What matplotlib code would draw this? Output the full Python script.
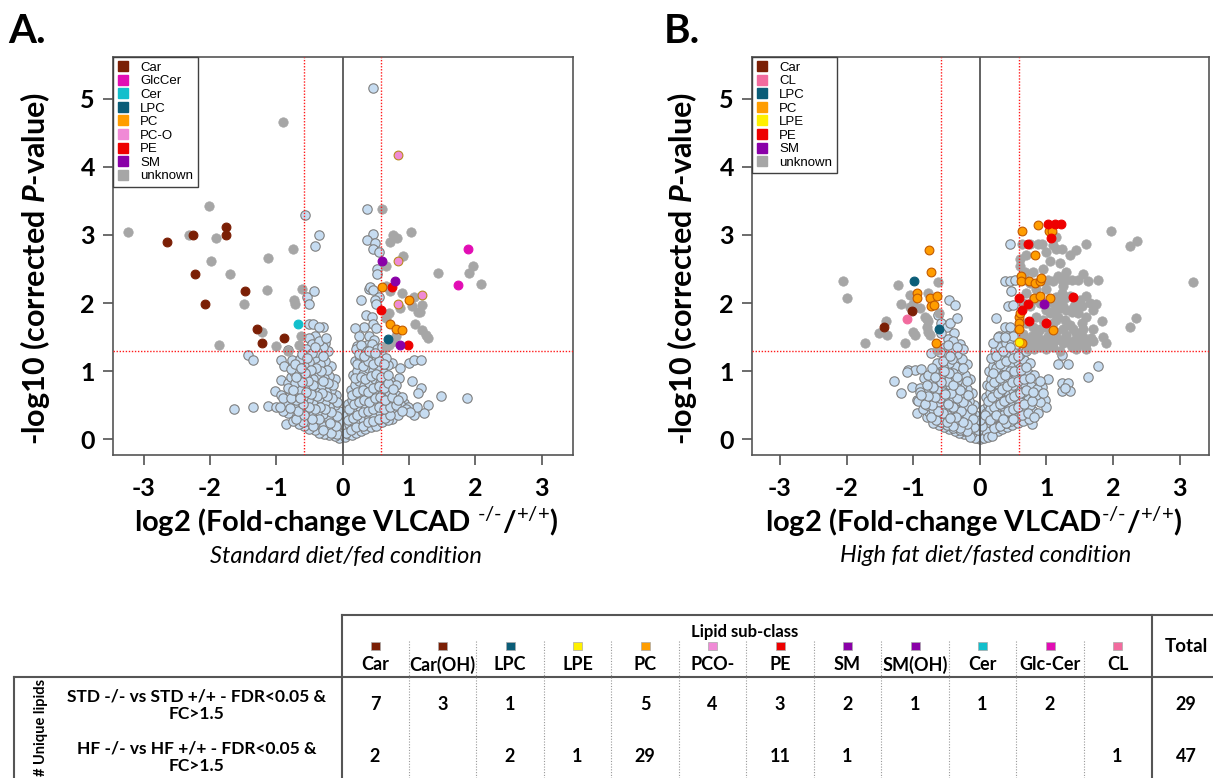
import matplotlib.pyplot as plt
from matplotlib.lines import Line2D
from matplotlib.patches import Rectangle

plt.rcParams['font.family'] = ['Lato', 'DejaVu Sans']
plt.rcParams['mathtext.fontset'] = 'custom'
plt.rcParams['mathtext.rm'] = 'Lato'
plt.rcParams['mathtext.it'] = 'Lato:italic:bold'
plt.rcParams['mathtext.bf'] = 'Lato:bold'
plt.rcParams['axes.unicode_minus'] = False

# ---------------- data: panel A (standard diet / fed) ----------------
a_car = [(-1.76, 3.12), (-1.76, 3.0), (-2.25, 3.0), (-2.65, 2.89), (-2.22, 2.42),
         (-1.47, 2.17), (-2.07, 1.99), (-1.29, 1.62), (-0.88, 1.48), (-1.21, 1.41)]
a_glccer = [(1.89, 2.79), (1.73, 2.26)]
a_cer = [(-0.67, 1.69)]
a_lpc = [(0.68, 1.47)]
a_pc = [(0.59, 2.23), (1.0, 2.04), (0.71, 1.69), (0.81, 1.62), (0.9, 1.61)]
a_pco = [(0.83, 4.17), (0.84, 2.61), (1.19, 2.12), (0.84, 1.99)]
a_pe = [(0.74, 2.23), (0.58, 1.90), (0.98, 1.38)]
a_sm = [(0.60, 2.61), (0.79, 2.32), (0.87, 1.39)]
a_gray = [(-3.23, 3.04), (-2.02, 3.42), (-2.32, 3.0), (-1.91, 2.95), (-1.98, 2.62), (-1.69, 2.42),
          (-1.13, 2.66), (-0.75, 2.79), (-1.14, 2.19), (-1.48, 1.99), (-0.61, 2.21), (-0.73, 2.04),
          (-0.72, 1.98), (-1.21, 1.58), (-1.86, 1.39), (-1.01, 1.37), (-0.63, 1.51), (-0.66, 1.39),
          (-0.83, 1.30), (-0.90, 4.65), (0.60, 3.38), (0.76, 3.0), (0.82, 2.95), (0.72, 2.89),
          (1.03, 3.04), (0.91, 2.69), (0.66, 2.54), (1.44, 2.44), (1.91, 2.44), (1.96, 2.54),
          (2.08, 2.28), (0.71, 2.17), (0.66, 2.25), (0.89, 2.14), (1.07, 2.09), (1.20, 1.97),
          (1.05, 1.95), (1.13, 1.87), (1.17, 1.87), (0.86, 1.92), (1.09, 1.69), (1.20, 1.61),
          (1.25, 1.53), (1.28, 1.48), (0.65, 1.78), (0.70, 1.85), (0.75, 1.43), (0.70, 1.38),
          (0.65, 1.36), (0.80, 1.51)]
a_blue = [(0.45, 5.16), (-0.56, 3.29), (-0.35, 3.0), (-0.41, 2.83), (0.36, 3.38), (0.46, 3.01),
          (0.37, 2.93), (0.48, 2.88), (0.46, 2.79), (0.55, 2.75), (0.51, 2.50), (0.52, 2.42),
          (0.39, 2.21), (0.41, 2.23), (0.46, 2.19), (0.54, 2.09), (0.49, 2.05), (0.27, 2.04),
          (0.50, 1.99), (0.35, 1.82), (0.44, 1.79), (0.45, 1.69), (0.50, 1.63), (0.32, 1.65),
          (0.19, 1.64), (0.25, 1.51), (0.40, 1.51), (0.47, 1.46), (0.37, 1.39), (0.22, 1.37),
          (0.45, 1.36), (-0.53, 2.09), (-0.43, 2.18), (-0.51, 1.99), (-0.51, 1.69), (-0.44, 1.69),
          (-0.29, 1.65), (-0.36, 1.65), (-0.42, 1.51), (-0.27, 1.42), (-0.33, 1.42), (-0.46, 1.39),
          (-0.51, 1.49), (-0.41, 1.34),
          # lower outliers
          (-1.63, 0.44), (-1.35, 0.47), (-1.42, 1.24), (-1.35, 1.17), (-1.12, 0.49), (-1.01, 0.48),
          (-1.02, 0.71), (-0.93, 0.65), (-0.86, 0.22), (-0.81, 0.58), (-0.76, 0.48), (-0.93, 0.87),
          (-0.83, 0.82), (-0.93, 1.16), (-0.88, 1.07), (-0.76, 1.16), (-0.82, 1.31), (-0.78, 0.92),
          (-0.73, 0.99), (-0.71, 0.77), (1.88, 0.61), (1.48, 0.64), (1.29, 0.51), (1.22, 0.38),
          (1.07, 0.36), (1.12, 0.48), (1.05, 0.86), (1.18, 0.76), (1.14, 0.68), (1.00, 1.12),
          (1.07, 1.16), (1.18, 1.16), (0.86, 1.04), (0.85, 0.90), (0.74, 1.12), (0.68, 1.09),
          (0.75, 0.30), (0.69, 0.41), (0.92, 0.53), (0.99, 0.48),
          # left lobe
          (-0.05, 0.02), (-0.12, 0.05), (-0.2, 0.06), (-0.28, 0.08), (-0.35, 0.1), (-0.42, 0.13),
          (-0.5, 0.15), (-0.58, 0.19), (-0.66, 0.22), (-0.75, 0.27), (-0.08, 0.12), (-0.16, 0.15),
          (-0.25, 0.18), (-0.33, 0.21), (-0.41, 0.24), (-0.52, 0.27), (-0.62, 0.31), (-0.71, 0.35),
          (-0.82, 0.38), (-0.9, 0.42), (-0.05, 0.25), (-0.13, 0.3), (-0.22, 0.33), (-0.3, 0.37),
          (-0.38, 0.4), (-0.47, 0.36), (-0.56, 0.42), (-0.64, 0.46), (-0.74, 0.5), (-0.85, 0.55),
          (-0.95, 0.47), (-0.06, 0.42), (-0.12, 0.5), (-0.2, 0.47), (-0.27, 0.55), (-0.35, 0.6),
          (-0.44, 0.52), (-0.52, 0.58), (-0.6, 0.62), (-0.68, 0.66), (-0.8, 0.64), (-0.9, 0.6),
          (-0.1, 0.65), (-0.17, 0.72), (-0.25, 0.7), (-0.32, 0.78), (-0.4, 0.7), (-0.48, 0.75),
          (-0.56, 0.8), (-0.63, 0.73), (-0.72, 0.82), (-0.82, 0.75), (-0.12, 0.88), (-0.2, 0.93),
          (-0.28, 0.9), (-0.36, 0.95), (-0.45, 0.88), (-0.53, 0.97), (-0.6, 0.9), (-0.68, 1.0),
          (-0.78, 1.03), (-0.18, 1.08), (-0.26, 1.15), (-0.34, 1.1), (-0.42, 1.2), (-0.5, 1.13),
          (-0.58, 1.07), (-0.65, 1.18), (-0.72, 1.1), (-0.22, 1.3), (-0.3, 1.35), (-0.38, 1.28),
          (-0.46, 1.4), (-0.55, 1.32), (-0.62, 1.25), (-0.35, 1.45), (-0.25, 1.48),
          (-0.09, 0.08), (-0.18, 0.1), (-0.3, 0.14), (-0.45, 0.19), (-0.6, 0.26), (-0.7, 0.3),
          (-0.1, 0.2), (-0.19, 0.24), (-0.36, 0.3), (-0.46, 0.3), (-0.58, 0.36), (-0.68, 0.41),
          (-0.8, 0.46), (-0.09, 0.34), (-0.17, 0.4), (-0.26, 0.44), (-0.34, 0.48), (-0.42, 0.45),
          (-0.5, 0.48), (-0.6, 0.52), (-0.7, 0.57), (-0.78, 0.6), (-0.08, 0.55), (-0.16, 0.6),
          (-0.23, 0.63), (-0.31, 0.68), (-0.39, 0.63), (-0.47, 0.66), (-0.55, 0.7), (-0.64, 0.6),
          (-0.75, 0.72), (-0.14, 0.8), (-0.22, 0.82), (-0.3, 0.86), (-0.44, 0.8), (-0.52, 0.86),
          (-0.62, 0.84), (-0.7, 0.92), (-0.24, 1.02), (-0.32, 1.0), (-0.4, 1.05), (-0.48, 1.02),
          (-0.56, 0.98), (-0.63, 1.05), (-0.3, 1.22), (-0.46, 1.27), (-0.54, 1.2), (-0.42, 1.35),
          # right lobe
          (0.03, 0.03), (0.08, 0.08), (0.14, 0.06), (0.2, 0.1), (0.27, 0.12), (0.34, 0.15),
          (0.42, 0.18), (0.5, 0.2), (0.6, 0.25), (0.68, 0.28), (0.05, 0.18), (0.1, 0.22),
          (0.17, 0.25), (0.24, 0.28), (0.31, 0.3), (0.39, 0.33), (0.47, 0.36), (0.56, 0.4),
          (0.65, 0.37), (0.75, 0.42), (0.84, 0.35), (0.06, 0.35), (0.12, 0.4), (0.19, 0.44),
          (0.26, 0.47), (0.34, 0.5), (0.42, 0.46), (0.5, 0.52), (0.58, 0.55), (0.67, 0.5),
          (0.76, 0.56), (0.86, 0.52), (0.95, 0.45), (1.02, 0.4), (0.08, 0.52), (0.14, 0.58),
          (0.21, 0.62), (0.28, 0.66), (0.36, 0.63), (0.44, 0.68), (0.52, 0.72), (0.6, 0.66),
          (0.7, 0.7), (0.8, 0.65), (0.9, 0.62), (0.12, 0.72), (0.18, 0.8), (0.25, 0.85),
          (0.32, 0.78), (0.4, 0.83), (0.48, 0.88), (0.56, 0.82), (0.64, 0.9), (0.72, 0.85),
          (0.8, 0.8), (0.15, 0.95), (0.22, 1.0), (0.3, 0.96), (0.38, 1.04), (0.46, 1.0),
          (0.54, 1.06), (0.62, 0.98), (0.18, 1.15), (0.26, 1.2), (0.34, 1.13), (0.42, 1.22),
          (0.5, 1.17), (0.58, 1.25), (0.65, 1.2), (0.2, 1.32), (0.28, 1.38), (0.36, 1.3),
          (0.44, 1.4), (0.52, 1.33), (0.6, 1.36),
          (0.05, 0.1), (0.12, 0.13), (0.2, 0.18), (0.3, 0.2), (0.38, 0.25), (0.46, 0.27),
          (0.55, 0.3), (0.64, 0.32), (0.72, 0.36), (0.08, 0.28), (0.15, 0.32), (0.22, 0.36),
          (0.3, 0.4), (0.38, 0.42), (0.46, 0.44), (0.54, 0.47), (0.62, 0.45), (0.71, 0.48),
          (0.8, 0.5), (0.9, 0.42), (0.1, 0.45), (0.17, 0.52), (0.24, 0.55), (0.32, 0.57),
          (0.4, 0.55), (0.48, 0.6), (0.56, 0.62), (0.64, 0.58), (0.74, 0.62), (0.84, 0.58),
          (0.14, 0.65), (0.22, 0.7), (0.3, 0.72), (0.38, 0.7), (0.46, 0.76), (0.54, 0.78),
          (0.62, 0.76), (0.68, 0.82), (0.76, 0.74), (0.19, 0.9), (0.27, 0.92), (0.34, 0.88),
          (0.42, 0.93), (0.5, 0.96), (0.58, 0.92), (0.68, 0.95), (0.22, 1.1), (0.3, 1.07),
          (0.38, 1.15), (0.46, 1.1), (0.54, 1.15), (0.62, 1.1), (0.25, 1.25), (0.32, 1.22),
          (0.4, 1.3), (0.48, 1.26)]

# ---------------- data: panel B (high fat diet / fasted) ----------------
b_car = [(-1.02, 1.89), (-1.44, 1.65)]
b_cl = [(-1.09, 1.77)]
b_lpc = [(-0.99, 2.33), (-0.62, 1.62)]
b_pc = [(-0.76, 2.78), (-0.74, 2.46), (-0.95, 2.14), (-0.95, 2.07), (-0.75, 2.07), (-0.65, 2.10),
        (-0.73, 1.96), (-0.69, 1.97), (-0.66, 1.41), (0.88, 3.15), (0.64, 3.06), (1.04, 3.06),
        (1.09, 3.06), (0.83, 2.71), (0.62, 2.39), (0.62, 2.32), (0.74, 2.32), (0.83, 2.29),
        (0.90, 2.33), (0.92, 2.37), (0.81, 2.07), (0.90, 2.10), (1.05, 2.07), (0.585, 1.79),
        (0.585, 1.70), (0.585, 1.62), (1.10, 1.60), (0.64, 1.41), (0.6, 1.86)]
b_lpe = [(0.585, 1.43)]
b_pe = [(1.02, 3.16), (1.13, 3.16), (1.22, 3.16), (1.07, 2.96), (0.73, 2.87), (0.59, 2.07),
        (0.73, 1.99), (0.63, 1.90), (0.74, 1.73), (0.99, 1.70), (1.40, 2.09)]
b_sm = [(0.97, 1.98)]
b_gray = [(-2.05, 2.32), (-1.99, 2.07), (-1.41, 1.73), (-1.39, 1.53), (-1.52, 1.56), (-1.73, 1.41),
          (-1.23, 2.27), (-1.05, 2.12), (-1.18, 1.99), (-1.0, 1.99), (-1.05, 1.94), (-0.90, 1.92),
          (-0.78, 2.15), (-0.63, 2.31), (-1.13, 1.41), (-1.0, 1.58), (-0.98, 1.53), (-0.83, 1.80),
          (-0.79, 1.76), (-0.78, 1.58), (-0.75, 1.53), (-0.80, 1.65), (-0.78, 1.73), (-0.62, 1.85),
          (-0.65, 1.31), (1.97, 3.06), (1.45, 2.78), (1.59, 2.86), (1.15, 2.79), (1.23, 2.79),
          (0.88, 2.87), (0.93, 2.87), (0.63, 2.87), (1.15, 2.97), (1.20, 2.59), (1.17, 2.39),
          (1.23, 2.34), (1.30, 2.34), (1.38, 2.34), (1.48, 2.34), (1.62, 2.33), (1.78, 2.34),
          (1.03, 2.34), (1.10, 2.33), (0.95, 2.34), (1.23, 2.14), (1.15, 2.09), (1.28, 2.07),
          (1.43, 1.99), (1.53, 1.95), (1.75, 1.99), (1.84, 1.73), (1.67, 1.48), (1.48, 1.38),
          (1.38, 1.36), (1.25, 1.41), (1.15, 1.58), (1.03, 1.51), (0.93, 1.46), (0.83, 1.41),
          (0.78, 1.51), (0.88, 1.58), (1.05, 1.85), (1.18, 1.80), (1.28, 1.75), (1.35, 1.68),
          (1.45, 1.56), (1.18, 1.47), (1.30, 1.53), (0.95, 1.75), (0.80, 1.65), (1.20, 1.92),
          (1.38, 1.87), (1.53, 1.70), (1.47, 1.85), (3.2, 2.31), (2.26, 2.84), (2.36, 2.91),
          (2.25, 1.65), (2.35, 1.78), (0.70, 2.34), (0.75, 2.30), (1.0, 2.2), (1.1, 2.0),
          (1.35, 2.1), (1.6, 2.1), (1.0, 1.65), (1.1, 1.7), (1.4, 1.45), (1.55, 1.5), (0.9, 1.35),
          (1.1, 1.35), (0.7, 1.7), (0.65, 2.0), (0.68, 2.45), (1.25, 2.25), (0.85, 2.2), (1.6, 1.8),
          (1.7, 1.62), (1.2, 1.3), (0.72, 1.33), (0.98, 2.0), (1.3, 1.9),
          (0.65, 1.55), (0.7, 1.45), (0.85, 1.5), (1.0, 1.42), (1.12, 1.44), (1.35, 1.42),
          (1.5, 1.44), (1.6, 1.4), (0.9, 1.62), (1.25, 1.62), (1.4, 1.62), (1.55, 1.62),
          (0.85, 1.8), (1.0, 1.9), (1.12, 1.88), (1.25, 1.95), (1.4, 1.92), (0.75, 1.95),
          (0.9, 2.0), (1.2, 2.02), (1.5, 2.05), (1.7, 1.9), (1.65, 2.0), (0.8, 2.45),
          (0.95, 2.5), (1.05, 2.62), (1.3, 2.45), (1.55, 2.42), (0.7, 2.7), (1.0, 2.75),
          (1.1, 2.85), (0.76, 2.87), (1.35, 2.7), (0.7, 2.15), (0.8, 2.05), (1.7, 1.45),
          (1.85, 1.5), (1.9, 1.42), (0.7, 1.38), (1.45, 1.33), (1.0, 1.32), (0.82, 1.33),
          (1.6, 1.33), (1.15, 1.75), (0.6, 2.55), (0.6, 2.65)]
b_blue = [(0.45, 2.87), (0.375, 2.33), (0.45, 2.33), (0.525, 2.34), (0.465, 2.17), (0.425, 1.96),
          (0.50, 1.97), (0.25, 1.78), (0.375, 1.65), (0.45, 1.65), (0.415, 1.52), (0.285, 1.51),
          (0.225, 1.42), (0.325, 1.38), (0.475, 1.41), (0.525, 1.51), (-0.47, 2.04), (-0.375, 1.97),
          (-0.63, 1.83), (-0.58, 1.70), (-0.50, 1.65), (-0.45, 1.70), (-0.34, 1.78), (-0.385, 1.56),
          (-0.475, 1.47), (-0.525, 1.36), (-0.73, 1.26), (-0.385, 1.36), (-0.58, 1.56),
          # lower outliers
          (-1.29, 0.85), (-1.18, 0.68), (-1.08, 1.02), (-0.98, 1.02), (-0.88, 1.03), (-1.02, 0.77),
          (-0.90, 0.75), (-0.95, 0.58), (-0.94, 0.38), (-0.79, 0.33), (-1.10, 0.99), (1.63, 0.91),
          (1.77, 1.08), (1.23, 0.82), (1.32, 0.82), (1.24, 0.71), (1.35, 0.71), (1.28, 0.76),
          (1.18, 1.11), (1.32, 1.11), (1.23, 1.24), (1.03, 0.89), (0.98, 0.58), (1.0, 0.48),
          (0.93, 0.77), (0.78, 0.23), (0.70, 0.31),
          # left lobe
          (-0.04, 0.02), (-0.1, 0.04), (-0.17, 0.06), (-0.24, 0.08), (-0.31, 0.1), (-0.38, 0.12),
          (-0.46, 0.15), (-0.54, 0.18), (-0.62, 0.21), (-0.7, 0.24), (-0.06, 0.1), (-0.13, 0.13),
          (-0.2, 0.16), (-0.27, 0.19), (-0.35, 0.22), (-0.43, 0.26), (-0.51, 0.29), (-0.6, 0.33),
          (-0.68, 0.36), (-0.77, 0.4), (-0.86, 0.44), (-0.05, 0.2), (-0.11, 0.25), (-0.18, 0.28),
          (-0.25, 0.32), (-0.33, 0.35), (-0.41, 0.39), (-0.49, 0.42), (-0.57, 0.46), (-0.66, 0.5),
          (-0.75, 0.55), (-0.84, 0.6), (-0.93, 0.56), (-0.07, 0.35), (-0.14, 0.4), (-0.21, 0.44),
          (-0.29, 0.48), (-0.37, 0.52), (-0.45, 0.56), (-0.53, 0.6), (-0.62, 0.64), (-0.71, 0.68),
          (-0.8, 0.72), (-0.9, 0.7), (-0.09, 0.5), (-0.16, 0.56), (-0.23, 0.6), (-0.31, 0.65),
          (-0.39, 0.69), (-0.47, 0.73), (-0.56, 0.78), (-0.65, 0.82), (-0.74, 0.86), (-0.84, 0.9),
          (-0.12, 0.68), (-0.19, 0.74), (-0.27, 0.8), (-0.35, 0.85), (-0.43, 0.9), (-0.51, 0.94),
          (-0.6, 0.98), (-0.69, 1.0), (-0.78, 0.95), (-0.15, 0.88), (-0.22, 0.95), (-0.3, 1.02),
          (-0.38, 1.08), (-0.47, 1.12), (-0.56, 1.06), (-0.64, 1.12), (-0.72, 1.05), (-0.2, 1.1),
          (-0.27, 1.18), (-0.35, 1.25), (-0.43, 1.3), (-0.52, 1.22), (-0.6, 1.28), (-0.3, 1.4),
          (-0.4, 1.45), (-0.48, 1.38), (-0.25, 1.32), (-0.55, 0.5), (-0.45, 0.45), (-0.35, 0.3),
          (-0.25, 0.4), (-0.15, 0.32), (-0.5, 0.35), (-0.62, 0.55), (-0.7, 0.45), (-0.8, 0.5),
          (-0.4, 0.62), (-0.3, 0.56), (-0.2, 0.5), (-0.55, 0.7), (-0.65, 0.72), (-0.45, 0.8),
          (-0.35, 0.75), (-0.25, 0.68), (-0.5, 0.85), (-0.6, 0.9), (-0.4, 0.98),
          (-0.08, 0.07), (-0.15, 0.09), (-0.22, 0.12), (-0.3, 0.14), (-0.4, 0.17), (-0.5, 0.21),
          (-0.58, 0.25), (-0.66, 0.29), (-0.74, 0.33), (-0.1, 0.16), (-0.24, 0.22), (-0.32, 0.26),
          (-0.45, 0.3), (-0.55, 0.38), (-0.63, 0.42), (-0.72, 0.5), (-0.82, 0.52), (-0.13, 0.27),
          (-0.2, 0.36), (-0.28, 0.42), (-0.4, 0.48), (-0.48, 0.52), (-0.6, 0.6), (-0.68, 0.62),
          (-0.78, 0.64), (-0.88, 0.65), (-0.12, 0.45), (-0.26, 0.55), (-0.35, 0.6), (-0.43, 0.68),
          (-0.52, 0.66), (-0.7, 0.77), (-0.8, 0.8), (-0.18, 0.65), (-0.3, 0.72), (-0.4, 0.8),
          (-0.58, 0.84), (-0.68, 0.92), (-0.2, 0.85), (-0.34, 0.92), (-0.46, 0.98), (-0.54, 1.0),
          (-0.26, 1.05), (-0.42, 1.18), (-0.56, 1.15), (-0.35, 1.35), (-0.45, 1.22),
          # right lobe
          (0.03, 0.02), (0.08, 0.05), (0.14, 0.07), (0.2, 0.1), (0.27, 0.12), (0.34, 0.15),
          (0.41, 0.18), (0.49, 0.21), (0.57, 0.24), (0.65, 0.27), (0.74, 0.3), (0.05, 0.14),
          (0.1, 0.18), (0.16, 0.22), (0.23, 0.25), (0.3, 0.28), (0.37, 0.32), (0.45, 0.35),
          (0.53, 0.38), (0.61, 0.42), (0.7, 0.45), (0.8, 0.42), (0.88, 0.38), (0.06, 0.28),
          (0.11, 0.33), (0.17, 0.37), (0.24, 0.41), (0.31, 0.45), (0.39, 0.49), (0.47, 0.52),
          (0.55, 0.56), (0.64, 0.6), (0.73, 0.63), (0.82, 0.6), (0.9, 0.55), (0.07, 0.44),
          (0.12, 0.5), (0.19, 0.55), (0.26, 0.6), (0.34, 0.64), (0.42, 0.68), (0.5, 0.72),
          (0.59, 0.76), (0.68, 0.8), (0.77, 0.78), (0.86, 0.74), (0.09, 0.62), (0.15, 0.68),
          (0.22, 0.74), (0.29, 0.79), (0.37, 0.84), (0.45, 0.88), (0.54, 0.92), (0.63, 0.96),
          (0.72, 0.98), (0.81, 0.94), (0.11, 0.8), (0.17, 0.88), (0.24, 0.94), (0.32, 1.0),
          (0.4, 1.05), (0.48, 1.1), (0.57, 1.14), (0.66, 1.16), (0.75, 1.12), (0.14, 1.0),
          (0.2, 1.08), (0.27, 1.15), (0.35, 1.22), (0.43, 1.27), (0.52, 1.3), (0.61, 1.25),
          (0.7, 1.3), (0.17, 1.2), (0.23, 1.3), (0.31, 1.36), (0.39, 1.42), (0.47, 1.46),
          (0.56, 1.4), (0.2, 1.42), (0.28, 1.5), (0.35, 0.4), (0.45, 0.5), (0.25, 0.5),
          (0.55, 0.65), (0.4, 0.58), (0.3, 0.7), (0.6, 0.55), (0.5, 0.8), (0.35, 0.95),
          (0.45, 1.0), (0.6, 1.05), (0.25, 1.05), (0.15, 0.45), (0.2, 0.3), (0.4, 0.28),
          (0.65, 0.7), (0.75, 0.5), (0.85, 0.65), (0.95, 0.68), (0.9, 0.85),
          (0.06, 0.08), (0.12, 0.11), (0.18, 0.14), (0.24, 0.18), (0.31, 0.21), (0.39, 0.24),
          (0.47, 0.27), (0.55, 0.31), (0.63, 0.35), (0.72, 0.38), (0.82, 0.33), (0.09, 0.24),
          (0.14, 0.3), (0.21, 0.33), (0.28, 0.37), (0.35, 0.36), (0.43, 0.42), (0.5, 0.45),
          (0.58, 0.48), (0.67, 0.52), (0.78, 0.56), (0.1, 0.38), (0.16, 0.44), (0.22, 0.48),
          (0.3, 0.52), (0.37, 0.56), (0.45, 0.6), (0.52, 0.64), (0.6, 0.68), (0.7, 0.72),
          (0.8, 0.7), (0.13, 0.56), (0.19, 0.62), (0.27, 0.68), (0.33, 0.74), (0.41, 0.78),
          (0.49, 0.84), (0.57, 0.86), (0.66, 0.88), (0.76, 0.9), (0.16, 0.78), (0.22, 0.84),
          (0.3, 0.9), (0.38, 0.94), (0.52, 1.0), (0.62, 1.02), (0.7, 1.06), (0.2, 0.98),
          (0.3, 1.1), (0.4, 1.15), (0.5, 1.2), (0.58, 1.22), (0.25, 1.22), (0.35, 1.3),
          (0.45, 1.36), (0.5, 1.52), (0.38, 1.5),
          # crowded tip
          (0.0, 0.0), (-0.02, 0.05), (0.02, 0.08), (-0.08, 0.02), (0.06, 0.02), (-0.12, 0.1),
          (0.1, 0.12), (-0.03, 0.14), (0.04, 0.2), (-0.09, 0.18), (0.12, 0.03), (-0.15, 0.03),
          (0.18, 0.05), (-0.2, 0.12), (0.22, 0.16), (0.0, 0.28), (-0.1, 0.3), (0.08, 0.36),
          (-0.2, 0.22), (0.15, 0.28), (-0.3, 0.16), (0.3, 0.2), (-0.25, 0.26), (0.25, 0.35),
          (-0.4, 0.2), (0.4, 0.24), (-0.36, 0.33), (0.35, 0.3), (-0.5, 0.25), (0.5, 0.3),
          (-0.45, 0.32)]

# thresholds
fc_cut = 0.585      # log2(1.5)
p_cut = 1.301       # -log10(0.05)

# ---------------- data: summary table ----------------
sub_classes = ['Car', 'Car(OH)', 'LPC', 'LPE', 'PC', 'PCO-', 'PE', 'SM', 'SM(OH)', 'Cer', 'Glc-Cer', 'CL']
std_counts = ['7', '3', '1', '', '5', '4', '3', '2', '1', '1', '2', '']
hf_counts = ['2', '', '2', '1', '29', '', '11', '1', '', '', '', '1']
totals = ['29', '47']
row_labels = ['STD -/- vs STD +/+ - FDR<0.05 &\nFC>1.5', 'HF -/- vs HF +/+ - FDR<0.05 &\nFC>1.5']

colors = {
    'Car': '#7b1f05', 'Car(OH)': '#7b1f05', 'GlcCer': '#e20db4', 'Glc-Cer': '#e20db4',
    'Cer': '#12bfcc', 'LPC': '#0b5d78', 'PC': '#ff9d00', 'PC-O': '#f08ad6', 'PCO-': '#f08ad6',
    'PE': '#ee0000', 'SM': '#8a00a8', 'SM(OH)': '#8a00a8', 'LPE': '#fff000', 'CL': '#f26b9e',
    'unknown': '#a6a6a6',
}
edges = {'PC': '#c25a00', 'PC-O': '#b88a20', 'LPE': '#e08a00'}
BLUE = '#c6dcf1'
GRAY = '#a6a6a6'

W, H = 1213, 778
fig = plt.figure(figsize=(W / 100, H / 100), dpi=100)


def fx(px):
    return px / W


def fy(py):
    return 1 - py / H


def volcano(ax, blue, gray, groups, xlim):
    bx, by = zip(*blue)
    ax.scatter(bx, by, s=46, c=BLUE, edgecolors='#7f7f7f', linewidths=0.8, zorder=2)
    gx, gy = zip(*gray)
    ax.scatter(gx, gy, s=46, c=GRAY, edgecolors=GRAY, linewidths=0.5, zorder=2)
    ax.axvline(0, color='#555555', lw=1.3, zorder=3)
    for v in (-fc_cut, fc_cut):
        ax.axvline(v, color='#ff1a1a', ls=(0, (1, 1.2)), lw=1.0, zorder=3)
    ax.axhline(p_cut, color='#ff1a1a', ls=(0, (1, 1.2)), lw=1.0, zorder=3)
    for name, pts in groups.items():
        x, y = zip(*pts)
        ax.scatter(x, y, s=40, c=colors[name], edgecolors=edges.get(name, colors[name]),
                   linewidths=0.8, zorder=4)
    ax.set_xlim(*xlim)
    ax.set_ylim(-0.23, 5.61)
    ax.set_xticks([-3, -2, -1, 0, 1, 2, 3])
    ax.set_yticks([0, 1, 2, 3, 4, 5])
    ax.tick_params(direction='out', length=7, width=1.1, colors='#444444', labelsize=18,
                   labelcolor='black')
    ax.tick_params(axis='x', pad=9)
    ax.tick_params(axis='y', pad=6)
    for lab in ax.get_xticklabels() + ax.get_yticklabels():
        lab.set_fontweight('bold')
    for sp in ax.spines.values():
        sp.set_color('#555555')
        sp.set_linewidth(1.2)
    names = list(groups.keys()) + ['unknown']
    handles = [Line2D([], [], marker='s', ls='', markersize=7.5, markerfacecolor=colors[n],
                      markeredgecolor=colors[n]) for n in names]
    leg = ax.legend(handles, names, loc='upper left', bbox_to_anchor=(0, 1), borderaxespad=0,
                    frameon=True, fancybox=False, edgecolor='#404040', framealpha=1,
                    prop={'family': 'Liberation Sans', 'size': 9.5}, handlelength=0.8,
                    handletextpad=0.9, labelspacing=0.1, borderpad=0.35)
    leg.get_frame().set_linewidth(1.0)
    leg.set_zorder(6)


axA = fig.add_axes([fx(113), fy(455), (573 - 113) / W, (455 - 57) / H])
volcano(axA, a_blue, a_gray,
        {'Car': a_car, 'GlcCer': a_glccer, 'Cer': a_cer, 'LPC': a_lpc, 'PC': a_pc,
         'PC-O': a_pco, 'PE': a_pe, 'SM': a_sm}, (-3.46, 3.47))

axB = fig.add_axes([fx(752), fy(455), (1209 - 752) / W, (455 - 57) / H])
volcano(axB, b_blue, b_gray,
        {'Car': b_car, 'CL': b_cl, 'LPC': b_lpc, 'PC': b_pc, 'LPE': b_lpe, 'PE': b_pe,
         'SM': b_sm}, (-3.42, 3.44))

# panel letters, axis titles
fig.text(fx(8), fy(43), 'A.', fontsize=29, fontweight='bold')
fig.text(fx(664), fy(43), 'B.', fontsize=29, fontweight='bold')
ylab = r'-log10 (corrected $\mathit{P}$-value)'
fig.text(fx(35), fy(268), ylab, rotation=90, ha='center', va='center', fontsize=22, fontweight='bold')
fig.text(fx(682), fy(268), ylab, rotation=90, ha='center', va='center', fontsize=22, fontweight='bold')
fig.text(fx(346), fy(522), r'log2 (Fold-change VLCAD $^{\text{-/-}}$/$^{\text{+/+}}$)',
         ha='center', va='center', fontsize=21, fontweight='bold')
fig.text(fx(974), fy(522), r'log2 (Fold-change VLCAD$^{\text{-/-}}$/$^{\text{+/+}}$)',
         ha='center', va='center', fontsize=21, fontweight='bold')
fig.text(fx(346), fy(556), 'Standard diet/fed condition', ha='center', va='center', fontsize=17,
         style='italic')
fig.text(fx(986), fy(556), 'High fat diet/fasted condition', ha='center', va='center', fontsize=17,
         style='italic')

# ---------------- summary table ----------------
tab = fig.add_axes([0, 0, 1, 1])
tab.set_xlim(0, W)
tab.set_ylim(H, 0)
tab.axis('off')
line_c = '#555555'
tab.plot([342, W], [615, 615], color=line_c, lw=1.5)
tab.plot([14, W], [677, 677], color=line_c, lw=1.5)
tab.plot([342, 342], [615, H], color=line_c, lw=1.5)
tab.plot([14, 14], [677, H], color=line_c, lw=1.5)
tab.plot([1152, 1152], [615, H], color=line_c, lw=1.5)
col_x = [375 + 67.5 * i for i in range(len(sub_classes))]
for cx in col_x[1:]:
    tab.plot([cx - 33.75, cx - 33.75], [641, H], color='#999999', lw=0.8, ls=(0, (1, 1.5)))
tab.text(745, 632, 'Lipid sub-class', ha='center', va='center', fontsize=12, fontweight='bold')
for cx, name, v1, v2 in zip(col_x, sub_classes, std_counts, hf_counts):
    tab.add_patch(Rectangle((cx - 4.5, 642), 9, 8, facecolor=colors[name], edgecolor='#aaaaaa', lw=0.5))
    tab.text(cx, 665, name, ha='center', va='center', fontsize=13, fontweight='bold')
    tab.text(cx, 704, v1, ha='center', va='center', fontsize=13, fontweight='bold')
    tab.text(cx, 757, v2, ha='center', va='center', fontsize=13, fontweight='bold')
tab.text(1186, 646, 'Total', ha='center', va='center', fontsize=13.5, fontweight='bold')
tab.text(1186, 704, totals[0], ha='center', va='center', fontsize=13, fontweight='bold')
tab.text(1186, 757, totals[1], ha='center', va='center', fontsize=13, fontweight='bold')
tab.text(197, 705, row_labels[0], ha='center', va='center', fontsize=12.5, fontweight='bold',
         linespacing=1.15)
tab.text(197, 757, row_labels[1], ha='center', va='center', fontsize=12.5, fontweight='bold',
         linespacing=1.15)
tab.text(41, 727, '# Unique lipids', rotation=90, ha='center', va='center', fontsize=10.5,
         fontweight='bold')

fig.savefig('out.png', dpi=100)
